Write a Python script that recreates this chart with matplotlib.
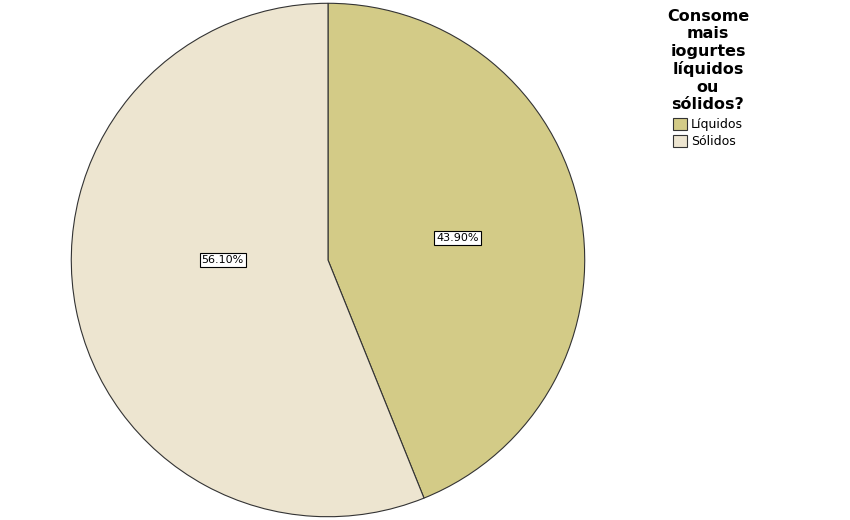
import matplotlib.pyplot as plt

categories = ["Líquidos", "Sólidos"]
percents = [43.9, 56.1]
colors = ["#D3CB87", "#EDE5D0"]
legend_title = "Consome\nmais\niogurtes\nlíquidos\nou\nsólidos?"

fig = plt.figure(figsize=(8.5, 5.2), dpi=100)
ax = fig.add_axes([70 / 850, 2 / 520, 516 / 850, 516 / 520])

wedges, texts, autotexts = ax.pie(
    percents, colors=colors, startangle=90, counterclock=False,
    autopct="%.2f%%", pctdistance=0.51, radius=1.0,
    wedgeprops=dict(edgecolor="#333333", linewidth=0.8),
    textprops=dict(fontsize=8, color="black"))
for t in autotexts:
    t.set_bbox(dict(facecolor="white", edgecolor="black", linewidth=0.8, pad=1.5))
# SPSS puts the label positions a bit differently from the slice middle
autotexts[0].set_position((0.505, 0.085))
autotexts[1].set_position((-0.41, 0.0))
ax.set_xlim(-1.005, 1.005)
ax.set_ylim(-1.005, 1.005)
ax.set_aspect("equal")

leg = fig.legend(wedges, categories, loc="upper center", bbox_to_anchor=(708 / 850, 1.0),
                 frameon=False, fontsize=9, title=legend_title,
                 handlelength=1.1, handleheight=1.1, handletextpad=0.3,
                 labelspacing=0.3, borderpad=0.2)
leg._legend_box.sep = 4
leg.get_title().set_fontsize(11.5)
leg.get_title().set_fontweight("bold")
leg.get_title().set_multialignment("center")
leg.get_title().set_linespacing(1.2)

fig.savefig("out.png", dpi=100)
